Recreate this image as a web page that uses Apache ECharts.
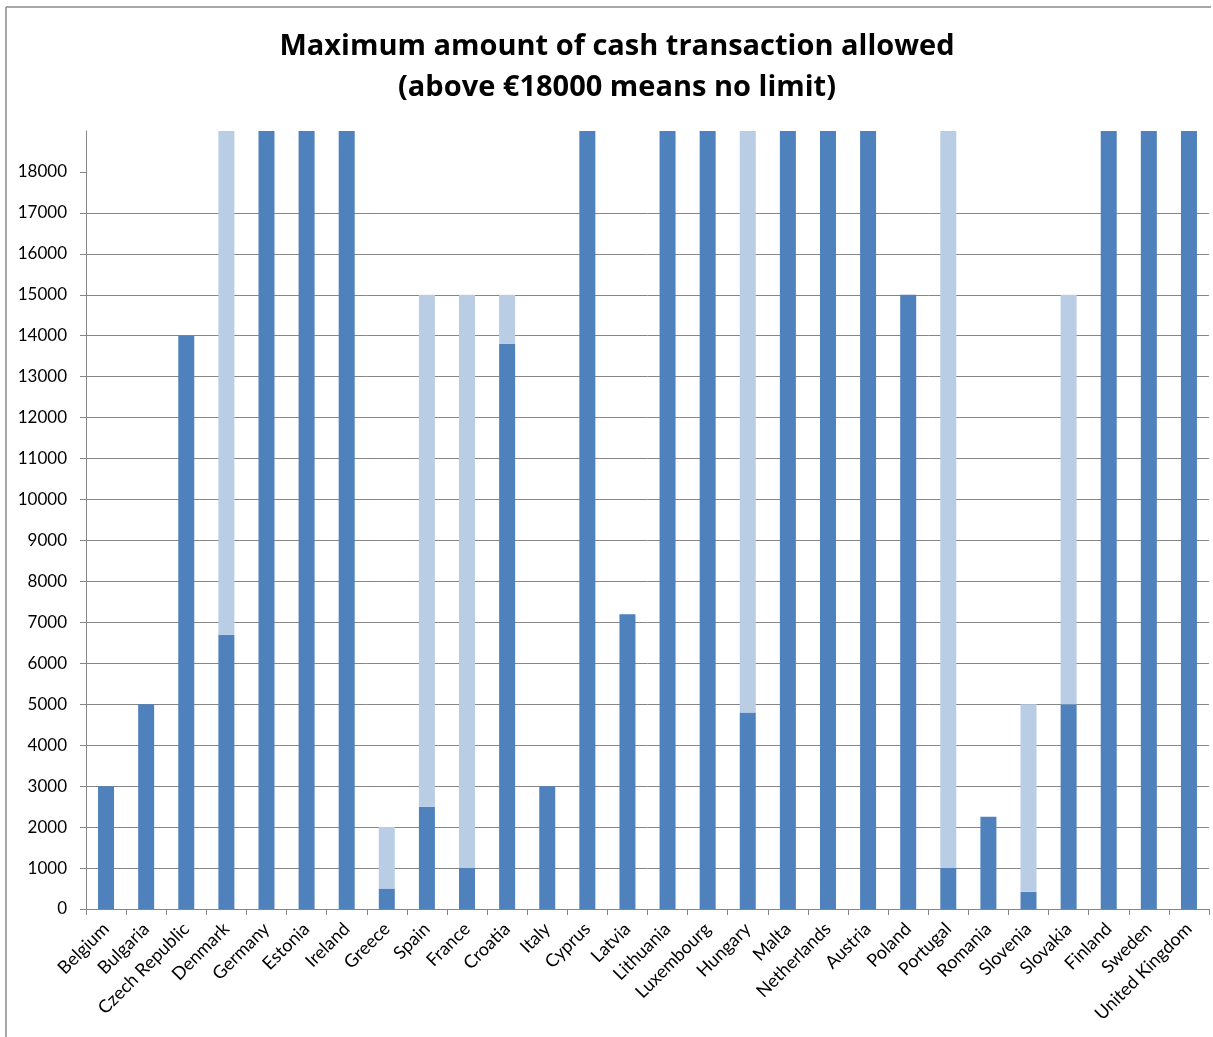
<!DOCTYPE html>
<html>
<head>
<meta charset="utf-8">
<script src="https://cdn.jsdelivr.net/npm/echarts@6/dist/echarts.min.js"></script>
<style>html,body{margin:0;padding:0;background:#fff}#c{width:1213px;height:1037px}</style>
</head>
<body>
<div id="c"></div>
<script>
const categories = ["Belgium","Bulgaria","Czech Republic","Denmark","Germany","Estonia","Ireland","Greece","Spain","France","Croatia","Italy","Cyprus","Latvia","Lithuania","Luxembourg","Hungary","Malta","Netherlands","Austria","Poland","Portugal","Romania","Slovenia","Slovakia","Finland","Sweden","United Kingdom"];
// lower (dark) part of each bar
const darkValues = [3000,5000,14000,6700,19000,19000,19000,500,2500,1000,13800,3000,19000,7200,19000,19000,4800,19000,19000,19000,15000,1000,2250,420,5000,19000,19000,19000];
// upper (light) part stacked on top
const lightValues = [0,0,0,12300,0,0,0,1500,12500,14000,1200,0,0,0,0,0,14200,0,0,0,0,18000,0,4580,10000,0,0,0];
const yTicks = [0,1000,2000,3000,4000,5000,6000,7000,8000,9000,10000,11000,12000,13000,14000,15000,16000,17000,18000];

const chart = echarts.init(document.getElementById('c'));
chart.setOption({
  animation: false,
  backgroundColor: '#fff',
  title: {
    text: 'Maximum amount of cash transaction allowed\n(above €18000 means no limit)',
    left: 612, top: 21, textAlign: 'center',
    textStyle: { fontFamily: 'Open Sans', fontWeight: 'bold', fontSize: 29, color: '#000', lineHeight: 41 }
  },
  graphic: [
    { type: 'line', shape: { x1: 6, y1: 7, x2: 1211, y2: 7 }, style: { stroke: '#8a8a8a', lineWidth: 1.5 } },
    { type: 'line', shape: { x1: 6, y1: 7, x2: 6, y2: 1037 }, style: { stroke: '#8a8a8a', lineWidth: 1.5 } }
  ],
  grid: { left: 86, right: 4, top: 131, bottom: 128, containLabel: false },
  xAxis: {
    type: 'category', data: categories,
    axisLine: { lineStyle: { color: '#868686', width: 1 } },
    axisTick: { show: true, length: 6, lineStyle: { color: '#868686' } },
    axisLabel: { rotate: 45, fontFamily: 'Lato', fontSize: 18, color: '#000', margin: 17, interval: 0 }
  },
  yAxis: {
    type: 'value', min: 0, max: 19000, interval: 1000,
    axisLine: { show: true, lineStyle: { color: '#868686', width: 1 } },
    axisTick: { show: true, length: 6, lineStyle: { color: '#868686' }, customValues: yTicks },
    axisLabel: { fontFamily: 'Lato', fontSize: 17, color: '#000', margin: 19, customValues: yTicks,
      formatter: function (v) { return String(v); } },
    splitLine: { show: true, showMaxLine: false, lineStyle: { color: '#868686', width: 1 } }
  },
  series: [
    { type: 'bar', stack: 's', data: darkValues, barWidth: 16, itemStyle: { color: '#4F81BD' } },
    { type: 'bar', stack: 's', data: lightValues, barWidth: 16, itemStyle: { color: '#B9CDE5' } }
  ]
});
</script>
</body>
</html>
